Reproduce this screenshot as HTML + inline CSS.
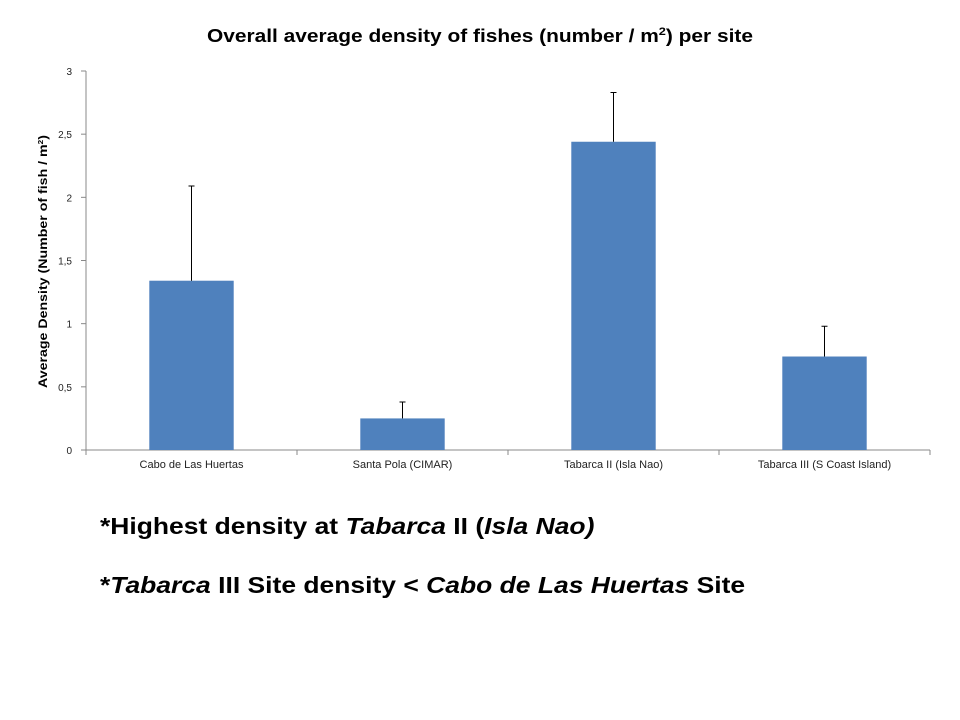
<!DOCTYPE html>
<html><head><meta charset="utf-8"><style>
body{margin:0;background:#fff;width:960px;height:720px;overflow:hidden;font-family:"Liberation Sans",sans-serif;}
.t{position:absolute;font-weight:bold;font-size:23px;color:#000;transform-origin:0 0;transform:scaleX(1.15);white-space:nowrap;}
</style></head><body>
<svg width="960" height="720" style="position:absolute;left:0;top:0">
<text x="207" y="42" textLength="546" lengthAdjust="spacingAndGlyphs" font-family="Liberation Sans, sans-serif" font-weight="bold" font-size="18">Overall average density of fishes (number / m<tspan font-size="11" dy="-7">2</tspan><tspan dy="7">) per site</tspan></text>
<text transform="translate(47,388) rotate(-90)" textLength="253" lengthAdjust="spacingAndGlyphs" font-family="Liberation Sans, sans-serif" font-weight="bold" font-size="12">Average Density (Number of fish / m<tspan font-size="7" dy="-4">2</tspan><tspan dy="4">)</tspan></text>
<g id="g"></g>
</svg>
<div class="t" style="left:100px;top:513px">*Highest density at <i>Tabarca</i> II (<i>Isla Nao)</i></div>
<div class="t" style="left:100px;top:572px">*<i>Tabarca</i> III Site density &lt; <i>Cabo de Las Huertas</i> Site</div>
<script>
const categories=["Cabo de Las Huertas","Santa Pola (CIMAR)","Tabarca II (Isla Nao)","Tabarca III (S Coast Island)"];
const values=[1.34,0.25,2.44,0.74];
const errors=[0.75,0.13,0.39,0.24];
const yTicks=[0,0.5,1,1.5,2,2.5,3];
const yTickLabels=["0","0,5","1","1,5","2","2,5","3"];
const X0=86,X1=930,Y0=450,Y1=71,YMAX=3;
const y=v=>Y0-(v/YMAX)*(Y0-Y1);
const cw=(X1-X0)/categories.length;
const xc=i=>X0+cw*(i+0.5);
const g=document.getElementById('g');
const NS="http://www.w3.org/2000/svg";
function mk(t,a){const e=document.createElementNS(NS,t);for(const k in a)e.setAttribute(k,a[k]);g.appendChild(e);return e;}
let ax=mk('line',{x1:X0,y1:Y1,x2:X0,y2:Y0,stroke:'#888'});


let bx=mk('line',{x1:X0,y1:Y0,x2:X1,y2:Y0,stroke:'#888'});


yTicks.forEach((v,i)=>{
 mk('line',{x1:X0-5,y1:y(v),x2:X0,y2:y(v),stroke:'#888'});
 const t=mk('text',{x:X0-14,y:y(v)+4,'text-anchor':'end','font-size':10,'font-family':'Liberation Sans, sans-serif',fill:'#222'});
 t.textContent=yTickLabels[i];
 
 
});
for(let i=0;i<=categories.length;i++) mk('line',{x1:X0+cw*i,y1:Y0,x2:X0+cw*i,y2:Y0+5,stroke:'#888'});
categories.forEach((c,i)=>{
 const bw=cw*0.4;
 const r=mk('rect',{x:xc(i)-bw/2,y:y(values[i]),width:bw,height:Y0-y(values[i]),fill:'#4F81BD'});
 
 
 const top=y(values[i]+errors[i]);
 const e=mk('path',{d:`M${xc(i)} ${y(values[i])}V${top}M${xc(i)-3} ${top}H${xc(i)+3}`,stroke:'#000','stroke-width':1,fill:'none'});
 
 
 const t=mk('text',{x:xc(i),y:Y0+18,'text-anchor':'middle','font-size':11,'font-family':'Liberation Sans, sans-serif',fill:'#222'});
 t.textContent=c;
 
 
});
</script>
</body></html>
